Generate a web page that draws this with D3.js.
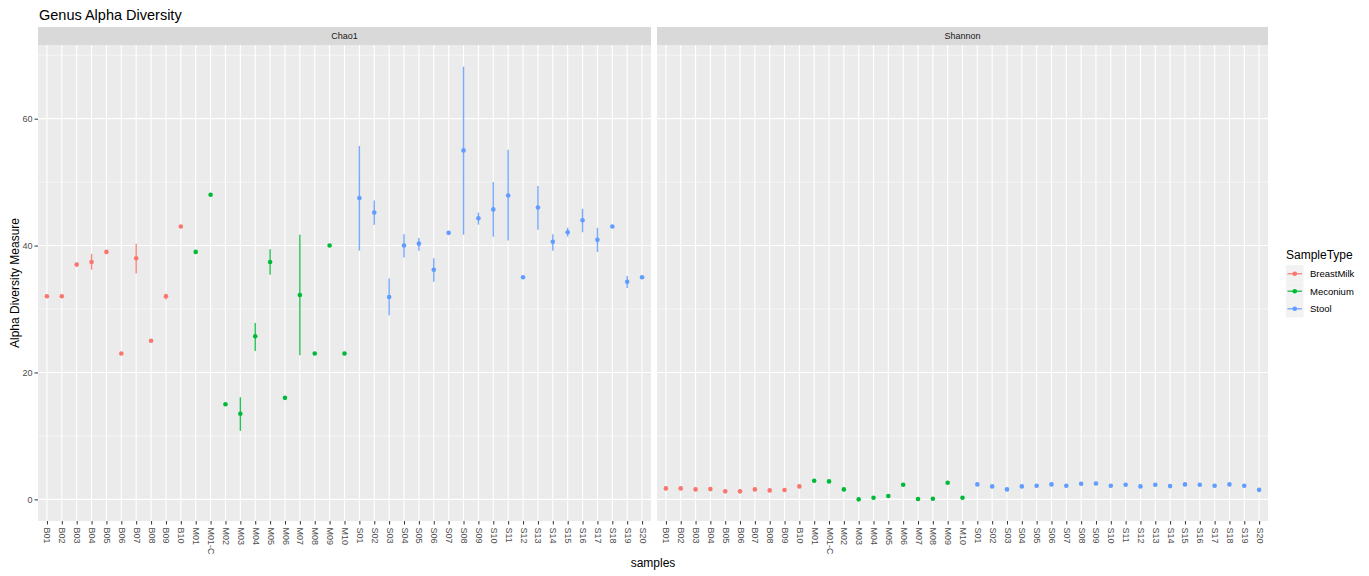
<!DOCTYPE html>
<html>
<head>
<meta charset="utf-8">
<script src="https://cdn.jsdelivr.net/npm/d3@7"></script>
<style>
  body { margin: 0; background: #fff; }
  svg { display: block; font-family: "Liberation Sans", Arial, sans-serif; }
</style>
</head>
<body>
<svg id="chart" width="1369" height="576"></svg>
<script>
// ---------------- DATA ----------------
const samples = ["B01","B02","B03","B04","B05","B06","B07","B08","B09","B10",
  "M01","M01-C","M02","M03","M04","M05","M06","M07","M08","M09","M10",
  "S01","S02","S03","S04","S05","S06","S07","S08","S09","S10",
  "S11","S12","S13","S14","S15","S16","S17","S18","S19","S20"];
const sampleTypes = ["BreastMilk","BreastMilk","BreastMilk","BreastMilk","BreastMilk","BreastMilk","BreastMilk","BreastMilk","BreastMilk","BreastMilk",
  "Meconium","Meconium","Meconium","Meconium","Meconium","Meconium","Meconium","Meconium","Meconium","Meconium","Meconium",
  "Stool","Stool","Stool","Stool","Stool","Stool","Stool","Stool","Stool","Stool",
  "Stool","Stool","Stool","Stool","Stool","Stool","Stool","Stool","Stool","Stool"];
const chao1 = [32,32,37,37.4,39,23,38,25,32,43,
  39,48,15,13.5,25.7,37.4,16,32.2,23,40,23,
  47.5,45.2,31.9,40,40.3,36.2,42,55,44.3,45.7,
  47.9,35,46,40.6,42.1,44,40.9,43,34.3,35];
const chao1Low = [null,null,null,36.2,null,null,35.6,null,31.5,null,
  null,null,null,10.8,23.4,35.4,null,22.7,null,null,null,
  39.2,43.3,29.0,38.1,39.2,34.3,null,41.7,43.3,41.4,
  40.8,null,42.5,39.2,41.4,42.1,39.0,null,33.3,null];
const chao1High = [null,null,null,38.7,null,null,40.3,null,32.4,null,
  null,null,null,16.1,27.8,39.4,null,41.7,null,null,null,
  55.7,47.1,34.8,41.8,41.2,38.0,null,68.2,45.2,50.0,
  55.1,null,49.4,41.8,42.8,45.8,42.8,null,35.2,null];
const shannon = [1.73,1.73,1.57,1.62,1.26,1.26,1.57,1.41,1.47,2.04,
  2.93,2.83,1.57,0.0,0.26,0.52,2.30,0.05,0.10,2.62,0.26,
  2.36,2.04,1.57,2.04,2.15,2.36,2.15,2.46,2.51,2.15,
  2.30,2.04,2.30,2.09,2.36,2.30,2.15,2.36,2.15,1.50];
const measures = ["Chao1","Shannon"];
const typeNames = ["BreastMilk","Meconium","Stool"];
const typeColors = ["#F8766D","#00BA38","#619CFF"];
const yTicks = [0,20,40,60];
const yMinor = [10,30,50,70];

// ---------------- LAYOUT ----------------
const svg = d3.select("#chart");
const panelTop = 45, panelBottom = 521;
const stripTop = 27;
const panels = [{x0: 38, x1: 651}, {x0: 657, x1: 1268}];

const color = d3.scaleOrdinal().domain(typeNames).range(typeColors);

// y domain with ggplot-like 5% expansion
const allVals = chao1.concat(shannon, chao1High.filter(v => v != null), chao1Low.filter(v => v != null));
const yMin = d3.min(allVals), yMax = d3.max(allVals);
const pad = (yMax - yMin) * 0.05;
const y = d3.scaleLinear().domain([yMin - pad, yMax + pad]).range([panelBottom, panelTop]);

const seriesByMeasure = {
  "Chao1": samples.map((s, i) => ({s, t: sampleTypes[i], v: chao1[i], lo: chao1Low[i], hi: chao1High[i]})),
  "Shannon": samples.map((s, i) => ({s, t: sampleTypes[i], v: shannon[i], lo: null, hi: null}))
};

// title
svg.append("text").attr("x", 39).attr("y", 20).attr("font-size", 14.5).attr("fill", "#000")
  .text("Genus Alpha Diversity");

measures.forEach((m, pi) => {
  const P = panels[pi];
  const x = d3.scalePoint().domain(samples).range([P.x0, P.x1]).padding(0.6);
  const g = svg.append("g");
  // panel background
  g.append("rect").attr("x", P.x0).attr("y", panelTop).attr("width", P.x1 - P.x0)
    .attr("height", panelBottom - panelTop).attr("fill", "#EBEBEB");
  // strip
  g.append("rect").attr("x", P.x0).attr("y", stripTop).attr("width", P.x1 - P.x0)
    .attr("height", panelTop - stripTop).attr("fill", "#D9D9D9");
  g.append("text").attr("x", (P.x0 + P.x1) / 2).attr("y", (stripTop + panelTop) / 2 + 3.3)
    .attr("text-anchor", "middle").attr("font-size", 9).attr("fill", "#1A1A1A").text(m);
  // minor grid
  g.selectAll(".ymin").data(yMinor.filter(v => v >= y.domain()[0] && v <= y.domain()[1])).enter().append("line")
    .attr("x1", P.x0).attr("x2", P.x1).attr("y1", d => y(d)).attr("y2", d => y(d))
    .attr("stroke", "#fff").attr("stroke-width", 0.55);
  // major grid
  g.selectAll(".ymaj").data(yTicks).enter().append("line")
    .attr("x1", P.x0).attr("x2", P.x1).attr("y1", d => y(d)).attr("y2", d => y(d))
    .attr("stroke", "#fff").attr("stroke-width", 1.1);
  g.selectAll(".xmaj").data(samples).enter().append("line")
    .attr("x1", d => x(d)).attr("x2", d => x(d)).attr("y1", panelTop).attr("y2", panelBottom)
    .attr("stroke", "#fff").attr("stroke-width", 1.1);

  const data = seriesByMeasure[m];
  // error bars
  g.selectAll(".err").data(data.filter(d => d.lo != null)).enter().append("line")
    .attr("x1", d => x(d.s)).attr("x2", d => x(d.s))
    .attr("y1", d => y(d.lo)).attr("y2", d => y(d.hi))
    .attr("stroke", d => color(d.t)).attr("stroke-width", 1.4).attr("stroke-opacity", 0.85);
  // points
  g.selectAll(".pt").data(data).enter().append("circle")
    .attr("cx", d => x(d.s)).attr("cy", d => y(d.v)).attr("r", 2.3)
    .attr("fill", d => color(d.t));

  // x axis
  const xa = svg.append("g").attr("transform", `translate(0,${panelBottom})`)
    .call(d3.axisBottom(x).tickSize(3.5).tickPadding(3));
  xa.select(".domain").remove();
  xa.selectAll(".tick line").attr("stroke", "#333").attr("stroke-width", 1);
  xa.selectAll(".tick text").attr("font-size", 9).attr("fill", "#4D4D4D")
    .attr("transform", "rotate(90)").attr("text-anchor", "start")
    .attr("x", 6.5).attr("y", 0).attr("dy", "0.33em");

  if (pi === 0) {
    const ya = svg.append("g").attr("transform", `translate(${P.x0},0)`)
      .call(d3.axisLeft(y).tickValues(yTicks).tickSize(3.5).tickPadding(2));
    ya.select(".domain").remove();
    ya.selectAll(".tick line").attr("stroke", "#333").attr("stroke-width", 1);
    ya.selectAll(".tick text").attr("font-size", 9).attr("fill", "#4D4D4D");
  }
});

// axis titles
svg.append("text").attr("x", (panels[0].x0 + panels[1].x1) / 2).attr("y", 567)
  .attr("text-anchor", "middle").attr("font-size", 12).attr("fill", "#000").text("samples");
svg.append("text").attr("transform", `translate(19,${(panelTop + panelBottom) / 2}) rotate(-90)`)
  .attr("text-anchor", "middle").attr("font-size", 12).attr("fill", "#000").text("Alpha Diversity Measure");

// legend
const lg = svg.append("g").attr("transform", "translate(1286,0)");
lg.append("text").attr("x", 0).attr("y", 259).attr("font-size", 12).attr("fill", "#000").text("SampleType");
const keyH = 17.5;
typeNames.forEach((t, i) => {
  const ky = 265 + i * keyH;
  lg.append("rect").attr("x", 0).attr("y", ky).attr("width", 17.5).attr("height", keyH).attr("fill", "#F2F2F2");
  lg.append("line").attr("x1", 1.5).attr("x2", 16).attr("y1", ky + keyH / 2).attr("y2", ky + keyH / 2)
    .attr("stroke", color(t)).attr("stroke-width", 1.4).attr("stroke-opacity", 0.85);
  lg.append("circle").attr("cx", 8.75).attr("cy", ky + keyH / 2).attr("r", 2.3).attr("fill", color(t));
  lg.append("text").attr("x", 24).attr("y", ky + keyH / 2 + 3.3).attr("font-size", 9.5).attr("fill", "#000").text(t);
});
</script>
</body>
</html>
